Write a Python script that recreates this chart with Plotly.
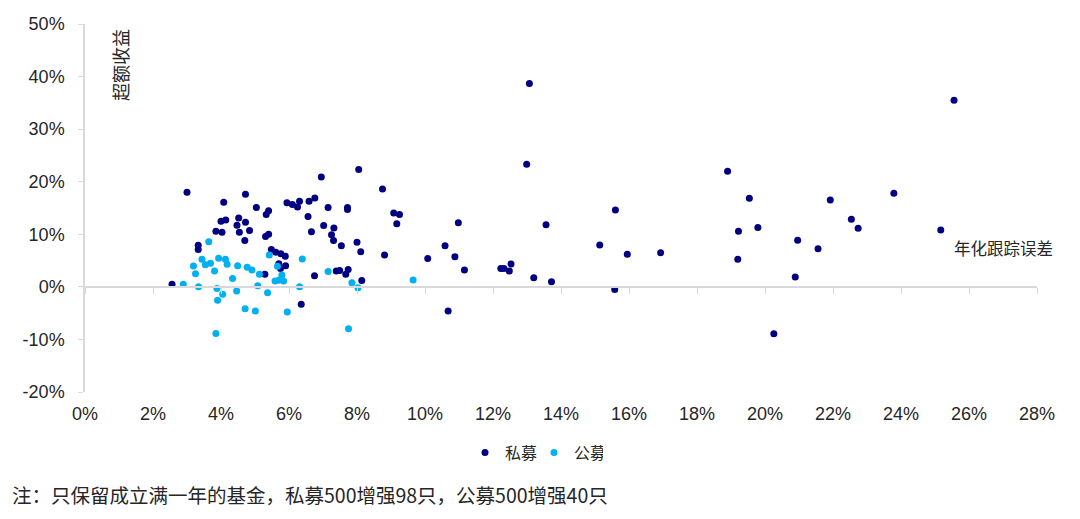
import plotly.graph_objects as go

# 私募 (private funds): annualised tracking error (%), excess return (%)
private_te = [2.56, 3.0, 3.33, 3.33, 3.85, 4.03, 4.08, 4.0, 4.14, 4.72, 4.52, 4.72, 4.47, 4.54, 4.84, 4.70,
              5.04, 5.33, 5.40, 5.31, 5.40, 5.48, 5.61, 5.76, 5.89, 5.7, 5.9, 5.75, 5.29, 5.94, 6.1, 6.25,
              6.31, 6.59, 6.76, 6.95, 6.56, 6.66, 6.36, 6.75, 7.15, 7.02, 7.32, 7.25, 7.31, 7.54, 7.72, 7.72,
              7.39, 7.49, 7.67, 7.74, 8.05, 8.75, 9.08, 9.25, 9.17, 8.0, 8.11, 8.81, 8.14, 10.08, 10.59, 10.68,
              13.07, 12.99, 10.98, 10.88, 11.16, 12.23, 12.32, 12.48, 12.53, 13.2, 13.72, 13.56, 15.14, 15.6,
              15.58, 15.95, 16.93, 18.9, 19.54, 19.22, 19.2, 19.79, 20.26, 20.89, 20.96, 21.56, 21.92, 22.54,
              22.74, 23.79, 25.17, 25.56]
private_ret = [0.48, 18.0, 7.9, 7.1, 10.6, 10.4, 16.1, 12.5, 12.7, 17.6, 13.1, 12.3, 11.7, 10.4, 10.7, 8.8,
               15.1, 13.75, 14.5, 9.56, 10.0, 7.1, 6.6, 6.3, 5.8, 4.4, 4.0, 3.5, 2.4, 16.0, 15.65, 15.2,
               16.3, 16.3, 16.9, 20.9, 13.4, 10.5, -3.3, 2.1, 15.1, 11.65, 11.2, 9.9, 8.8, 7.8, 15.1, 14.7,
               3.0, 3.1, 2.4, 3.3, 22.3, 18.6, 14.06, 13.75, 12.0, 8.5, 6.7, 6.06, 1.2, 5.4, 7.8, -4.6,
               38.7, 23.3, 12.2, 5.75, 3.2, 3.47, 3.47, 3.0, 4.35, 1.75, 0.99, 11.8, 7.97, 14.6,
               -0.48, 6.2, 6.5, 22.0, 16.86, 10.6, 5.24, 11.27, -8.9, 1.87, 8.86, 7.27, 16.5, 12.86,
               11.14, 17.8, 10.8, 35.5]

# 公募 (public funds)
public_te = [2.89, 3.19, 3.25, 3.34, 3.44, 3.54, 3.69, 3.81, 3.93, 4.13, 4.18, 3.88, 4.05, 3.90, 3.85,
             4.49, 4.34, 4.46, 4.77, 4.91, 4.71, 5.01, 5.13, 5.08, 5.37, 5.42, 5.66, 5.79, 5.59, 5.7,
             5.84, 5.95, 3.64, 6.39, 6.31, 7.15, 7.75, 7.85, 8.03, 9.65]
public_ret = [0.48, 3.96, 2.5, 0.04, 5.24, 4.2, 4.48, 3.0, 5.43, 5.24, 4.29, -0.29, -1.43, -2.57, -8.86,
              4.0, 1.6, -0.8, 3.71, 3.2, -4.15, -4.6, 2.38, 0.22, -1.1, 6.06, 3.9, 2.25, 1.1, 1.24,
              1.1, -4.8, 8.6, 5.3, 0.04, 2.9, -7.96, 0.8, -0.15, 1.3]

x_ticks = [0, 2, 4, 6, 8, 10, 12, 14, 16, 18, 20, 22, 24, 26, 28]
y_ticks = [-20, -10, 0, 10, 20, 30, 40, 50]

NAVY = "#000080"
CYAN = "#00B0F0"
AXIS = "#D9D9D9"
TXT = "#262626"
CJK = "Noto Sans CJK SC"

fig = go.Figure()
fig.add_trace(go.Scatter(x=private_te, y=private_ret, mode="markers", name="私募",
                         marker=dict(color=NAVY, size=7)))
fig.add_trace(go.Scatter(x=public_te, y=public_ret, mode="markers", name="公募",
                         marker=dict(color=CYAN, size=7)))
# dummy trace on the zero-line axis so it is rendered
fig.add_trace(go.Scatter(x=[None], y=[None], xaxis="x2", showlegend=False, hoverinfo="skip"))

yr = [-20, 50]
fig.update_layout(
    width=1080, height=519,
    margin=dict(l=85, r=43, t=24, b=127),
    plot_bgcolor="white", paper_bgcolor="white",
    font=dict(family="Liberation Sans, Arial", color=TXT, size=18),
    xaxis=dict(range=[0, 28], tickvals=x_ticks, ticktext=[f"{v}%" for v in x_ticks],
               showline=False, showgrid=False, zeroline=False, ticks="",
               ticklabelstandoff=9, tickfont=dict(size=18, color=TXT)),
    xaxis2=dict(range=[0, 28], matches="x", overlaying="x", anchor="free",
                position=(0 - yr[0]) / (yr[1] - yr[0]), side="bottom",
                tickvals=x_ticks, showticklabels=False, showline=True, linecolor=AXIS,
                linewidth=1.5, ticks="outside", ticklen=6, tickcolor=AXIS, tickwidth=1,
                showgrid=False, zeroline=False),
    yaxis=dict(range=yr, tickvals=y_ticks, ticktext=[f"{v}%" for v in y_ticks],
               showline=True, linecolor=AXIS, linewidth=1.5, ticks="outside", ticklen=5,
               tickcolor=AXIS, showgrid=False, zeroline=False, ticklabelstandoff=10,
               tickfont=dict(size=18, color=TXT)),
    legend=dict(orientation="h", x=(465 - 85) / 952, xanchor="left", y=-0.165, yanchor="middle",
                font=dict(family=CJK, size=16, color=TXT), entrywidth=24, entrywidthmode="pixels",
                bgcolor="rgba(0,0,0,0)"),
    showlegend=True,
)

fig.add_annotation(text="超额收益", xref="paper", yref="paper", x=(120 - 85) / 952, y=(391.5 - 65) / 367.5,
                   textangle=-90, showarrow=False, font=dict(family=CJK, size=18, color=TXT),
                   xanchor="center", yanchor="middle")
fig.add_annotation(text="年化跟踪误差", xref="paper", yref="paper", x=(952 - 85) / 952, y=(391.5 - 248) / 367.5,
                   showarrow=False, font=dict(family=CJK, size=16.5, color=TXT),
                   xanchor="left", yanchor="middle")
fig.add_annotation(text="注：只保留成立满一年的基金，私募500增强98只，公募500增强40只",
                   xref="paper", yref="paper", x=(10 - 85) / 952, y=(391.5 - 494) / 367.5,
                   showarrow=False, font=dict(family=CJK, size=19.5, color=TXT),
                   xanchor="left", yanchor="middle")

fig.write_html("out.html")
